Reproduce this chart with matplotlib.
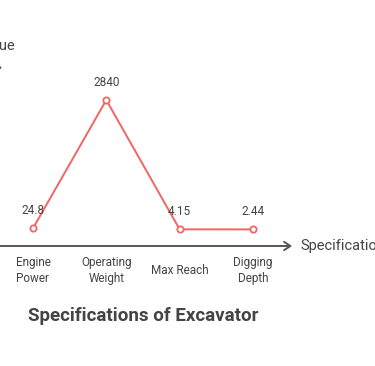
import matplotlib
matplotlib.use("Agg")
import matplotlib.pyplot as plt

categories = ["Engine\nPower", "Operating\nWeight", "Max Reach", "Digging\nDepth"]
values = [24.8, 2840, 4.15, 2.44]
value_labels = ["24.8", "2840", "4.15", "2.44"]
title = "Specifications of Excavator"
x_label = "Specifications"
y_label = "Value"

plt.rcParams['font.family'] = ['Roboto', 'DejaVu Sans']

W, H = 375, 366
fig = plt.figure(figsize=(W / 100, H / 100), dpi=100)

# axes placement in pixels (from top-left)
ax_left_px = -3.7
ax_right_px = 289.6
ax_top_px = 60
ax_bottom_px = 246
ax = fig.add_axes([ax_left_px / W, 1 - ax_bottom_px / H,
                   (ax_right_px - ax_left_px) / W, (ax_bottom_px - ax_top_px) / H])
ax.set_xlim(-0.5, 3.5)
px_per_unit = 129.5 / 2840
ax.set_ylim(-16.5 / px_per_unit, 2840 + 40 / px_per_unit)
ax.axis('off')

line_color = "#F46464"
xs = list(range(len(categories)))
ax.plot(xs, values, color=line_color, lw=1.4, marker='o', markersize=4.5,
        markerfacecolor='white', markeredgecolor=line_color, markeredgewidth=1.3,
        clip_on=False, zorder=3)

for x, v, lab in zip(xs, values, value_labels):
    ax.annotate(lab, (x, v), xytext=(0, 8), textcoords='offset points',
                ha='center', va='bottom', fontsize=8.5, color='#444444')

for x, c in zip(xs, categories):
    ax.annotate(c, (x, 0), xycoords=('data', 'axes fraction'), xytext=(0, -17.5),
                textcoords='offset points', ha='center', va='center', fontsize=8.5,
                color='#444444', linespacing=1.3)

axis_color = '#555555'
# x axis arrow
ax.annotate('', xy=(1.0 + 2.5 / (ax_right_px - ax_left_px), 0), xytext=(-0.02, 0),
            xycoords='axes fraction',
            arrowprops=dict(arrowstyle='->,head_length=0.45,head_width=0.3',
                            color=axis_color, lw=1.4, shrinkA=0, shrinkB=0),
            annotation_clip=False)
# y axis arrow
ax.annotate('', xy=(0.0, 1.0), xytext=(0.0, 0.0), xycoords='axes fraction',
            arrowprops=dict(arrowstyle='->,head_length=0.45,head_width=0.3',
                            color=axis_color, lw=1.4, shrinkA=0, shrinkB=0),
            annotation_clip=False)

fig.text(300 / W, 1 - 246 / H, x_label, ha='left', va='center', fontsize=10.5,
         color='#444444')
fig.text(16 / W, 1 - 46 / H, y_label, ha='right', va='center', fontsize=10.5,
         color='#444444')

fig.text(143 / W, 1 - 316 / H, title, ha='center', va='center', fontsize=13.5,
         fontweight='bold', color='#444444')

fig.savefig("out.png", dpi=100)
